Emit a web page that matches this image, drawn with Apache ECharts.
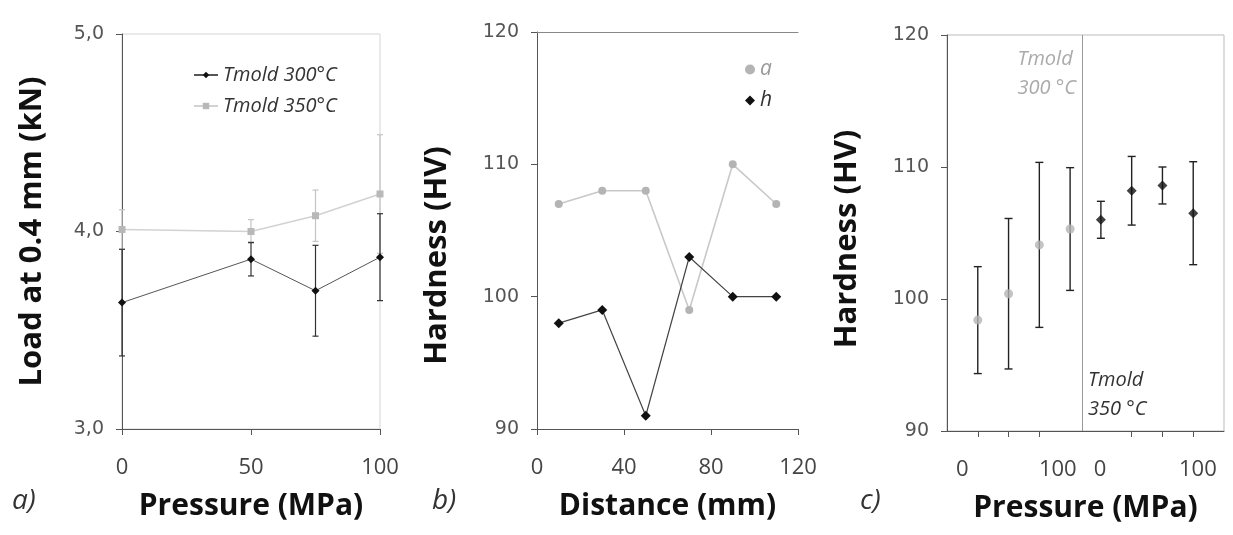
<!DOCTYPE html>
<html>
<head>
<meta charset="utf-8">
<style>
  html, body { margin: 0; padding: 0; background: #fff; }
  #chart { width: 1233px; height: 535px; }
</style>
<script src="https://cdn.jsdelivr.net/npm/echarts@6/dist/echarts.min.js"></script>
</head>
<body>
<div id="chart"></div>
<script>
// ---- a) load at 0.4 mm vs. pressure ----
const aPressure = [0, 50, 75, 100];
const aLoad300 = [3.64, 3.86, 3.70, 3.87];
const aErr300 = [0.27, 0.085, 0.23, 0.22];
const aLoad350 = [4.01, 4.00, 4.08, 4.19];
const aErr350 = [0.10, 0.06, 0.13, 0.30];

// ---- b) hardness profile along the part ----
const bDistance = [10, 30, 50, 70, 90, 110];
const bHardA = [107, 108, 108, 99, 110, 107];
const bHardH = [98, 99, 91, 103, 100, 100];

// ---- c) hardness vs. pressure, both mould temperatures ----
const cPos300 = [1, 2, 3, 4];
const cHard300 = [98.4, 100.4, 104.1, 105.3];
const cErr300 = [4.05, 5.7, 6.25, 4.65];
const cPos350 = [5, 6, 7, 8];
const cHard350 = [106.0, 108.2, 108.6, 106.5];
const cErr350 = [1.4, 2.6, 1.4, 3.9];
const cDivider = 4.4;
const cTickLabelPos = [0.5, 3.6, 4.97, 8.15];
const cTickLabels = ['0', '100', '0', '100'];
const cTickMarks = [1, 2, 3, 6, 7, 8];

const seriesNames = ['Tmold 300°C', 'Tmold 350°C', 'a', 'h'];

const pair = (xs, ys) => xs.map((x, i) => [x, ys[i]]);
const triple = (xs, ys, es) => xs.map((x, i) => [x, ys[i], es[i]]);

function errorBars(xIdx, yIdx, data, color, cap, width) {
  return {
    type: 'custom',
    xAxisIndex: xIdx,
    yAxisIndex: yIdx,
    data: data,
    z: 1,
    silent: true,
    renderItem: function (params, api) {
      const x = api.value(0), y = api.value(1), e = api.value(2);
      const hi = api.coord([x, y + e]);
      const lo = api.coord([x, y - e]);
      const st = { stroke: color, lineWidth: width };
      return {
        type: 'group',
        children: [
          { type: 'line', shape: { x1: hi[0], y1: hi[1], x2: lo[0], y2: lo[1] }, style: st },
          { type: 'line', shape: { x1: hi[0] - cap, y1: hi[1], x2: hi[0] + cap, y2: hi[1] }, style: st },
          { type: 'line', shape: { x1: lo[0] - cap, y1: lo[1], x2: lo[0] + cap, y2: lo[1] }, style: st }
        ]
      };
    }
  };
}

const titleFont = { fontFamily: '"Open Sans", sans-serif', fontWeight: 'bold', fontSize: 31, color: '#111' };
const xTitleFont = Object.assign({}, titleFont, { fontSize: 30 });
const yTickFont = { fontFamily: '"DejaVu Sans", sans-serif', fontSize: 19, color: '#555' };
const xTickFont = { fontFamily: '"Open Sans", sans-serif', fontSize: 22, color: '#444' };
const axisLineStyle = { lineStyle: { color: '#555', width: 1 } };
const xTick = { show: true, inside: false, length: 6, lineStyle: { color: '#555' } };

function yAxis(gridIndex, min, max, interval, name, gap, pad, fmt) {
  return {
    type: 'value', gridIndex, min, max, interval,
    name, nameLocation: 'middle', nameGap: gap,
    nameTextStyle: Object.assign({ padding: pad }, titleFont),
    axisLine: Object.assign({ show: true }, axisLineStyle),
    axisTick: { show: true, length: 6, lineStyle: { color: '#555' } },
    axisLabel: Object.assign({ margin: 18, formatter: fmt }, yTickFont),
    splitLine: { show: false }
  };
}

const chart = echarts.init(document.getElementById('chart'), null, { renderer: 'canvas' });

chart.setOption({
  backgroundColor: '#fff',
  animation: false,
  grid: [
    { left: 122, top: 34, width: 258, height: 395, show: true, borderColor: '#d4d4d4', borderWidth: 1 },
    { left: 537, top: 32, width: 261, height: 397 },
    { left: 947, top: 35, width: 277, height: 396, show: true, borderColor: '#bbb', borderWidth: 1 }
  ],
  xAxis: [
    {
      type: 'value', gridIndex: 0, min: 0, max: 100, interval: 50,
      name: 'Pressure (MPa)', nameLocation: 'middle', nameGap: 62, nameTextStyle: xTitleFont,
      axisLine: Object.assign({ show: true }, axisLineStyle),
      axisTick: xTick,
      axisLabel: Object.assign({ margin: 28 }, xTickFont),
      splitLine: { show: false }
    },
    {
      type: 'value', gridIndex: 1, min: 0, max: 120, interval: 40,
      name: 'Distance (mm)', nameLocation: 'middle', nameGap: 62, nameTextStyle: xTitleFont,
      axisLine: Object.assign({ show: true }, axisLineStyle),
      axisTick: xTick,
      axisLabel: Object.assign({ margin: 28 }, xTickFont),
      splitLine: { show: false }
    },
    {
      type: 'value', gridIndex: 2, min: 0, max: 9,
      name: 'Pressure (MPa)', nameLocation: 'middle', nameGap: 62, nameTextStyle: xTitleFont,
      axisLine: Object.assign({ show: true }, axisLineStyle),
      axisTick: Object.assign({ customValues: cTickMarks }, xTick),
      axisLabel: Object.assign({
        margin: 28,
        customValues: cTickLabelPos,
        formatter: v => cTickLabels[cTickLabelPos.indexOf(v)]
      }, xTickFont),
      splitLine: { show: false }
    },
    // top frame line of panel b
    {
      type: 'value', gridIndex: 1, min: 0, max: 120, position: 'top',
      axisLine: { show: true, lineStyle: { color: '#888', width: 1 } },
      axisTick: { show: false }, axisLabel: { show: false }, splitLine: { show: false }
    }
  ],
  yAxis: [
    yAxis(0, 3, 5, 1, 'Load at 0.4 mm (kN)', 74, [0, 0, 0, 0], v => v.toFixed(1).replace('.', ',')),
    yAxis(1, 90, 120, 10, 'Hardness (HV)', 84, [0, 50, 0, 0]),
    yAxis(2, 90, 120, 10, 'Hardness (HV)', 84, [0, 12, 0, 0])
  ],
  legend: [
    {
      data: [seriesNames[0], seriesNames[1]],
      orient: 'vertical', left: 188, top: 60, itemGap: 11,
      itemWidth: 24, itemHeight: 8,
      textStyle: { fontFamily: '"Open Sans", sans-serif', fontStyle: 'italic', fontSize: 20, color: '#333' }
    },
    {
      data: [
        { name: seriesNames[2], icon: 'circle', textStyle: { color: '#999' } },
        { name: seriesNames[3], icon: 'diamond', textStyle: { color: '#333' } }
      ],
      orient: 'vertical', left: 740, top: 54, itemGap: 10,
      itemWidth: 10, itemHeight: 10,
      textStyle: { fontFamily: '"Open Sans", sans-serif', fontStyle: 'italic', fontSize: 21 }
    }
  ],
  series: [
    // panel a
    errorBars(0, 0, triple(aPressure, aLoad350, aErr350), '#c4c4c4', 3, 1.2),
    errorBars(0, 0, triple(aPressure, aLoad300, aErr300), '#333', 3, 1.2),
    {
      name: seriesNames[1], type: 'line', xAxisIndex: 0, yAxisIndex: 0,
      data: pair(aPressure, aLoad350), symbol: 'rect', symbolSize: 7,
      itemStyle: { color: '#b8b8b8' }, lineStyle: { color: '#d2d2d2', width: 1.6 }, z: 3
    },
    {
      name: seriesNames[0], type: 'line', xAxisIndex: 0, yAxisIndex: 0,
      data: pair(aPressure, aLoad300), symbol: 'diamond', symbolSize: 8,
      itemStyle: { color: '#111' }, lineStyle: { color: '#555', width: 1 }, z: 4
    },
    // panel b
    {
      name: seriesNames[2], type: 'line', xAxisIndex: 1, yAxisIndex: 1,
      data: pair(bDistance, bHardA), symbol: 'circle', symbolSize: 8,
      itemStyle: { color: '#b4b4b4' }, lineStyle: { color: '#c8c8c8', width: 1.6 }, z: 3
    },
    {
      name: seriesNames[3], type: 'line', xAxisIndex: 1, yAxisIndex: 1,
      data: pair(bDistance, bHardH), symbol: 'diamond', symbolSize: 10,
      itemStyle: { color: '#111' }, lineStyle: { color: '#444', width: 1.2 }, z: 4
    },
    // panel c
    errorBars(2, 2, triple(cPos300, cHard300, cErr300), '#222', 4, 1.4),
    errorBars(2, 2, triple(cPos350, cHard350, cErr350), '#222', 4, 1.4),
    {
      type: 'scatter', xAxisIndex: 2, yAxisIndex: 2,
      data: pair(cPos300, cHard300), symbol: 'circle', symbolSize: 9,
      itemStyle: { color: '#b4b4b4' }, z: 3,
      markLine: {
        silent: true, symbol: 'none', label: { show: false },
        lineStyle: { color: '#999', width: 1, type: 'solid' },
        data: [{ xAxis: cDivider }]
      }
    },
    {
      type: 'scatter', xAxisIndex: 2, yAxisIndex: 2,
      data: pair(cPos350, cHard350), symbol: 'diamond', symbolSize: 10,
      itemStyle: { color: '#111' }, z: 3
    }
  ],
  graphic: [
    { type: 'text', left: 12, top: 487, style: { text: 'a)', font: 'italic 28px "Open Sans", sans-serif', fill: '#333' } },
    { type: 'text', left: 432, top: 487, style: { text: 'b)', font: 'italic 28px "Open Sans", sans-serif', fill: '#333' } },
    { type: 'text', left: 860, top: 487, style: { text: 'c)', font: 'italic 28px "Open Sans", sans-serif', fill: '#333' } },
    { type: 'text', right: 1233 - 1076, top: 45, style: { text: 'Tmold\n300 °C', align: 'right', lineHeight: 29, font: 'italic 20px "Open Sans", sans-serif', fill: '#aaa' } },
    { type: 'text', left: 1088, top: 366, style: { text: 'Tmold\n350 °C', align: 'left', lineHeight: 29, font: 'italic 20px "Open Sans", sans-serif', fill: '#333' } }
  ]
});
</script>
</body>
</html>
